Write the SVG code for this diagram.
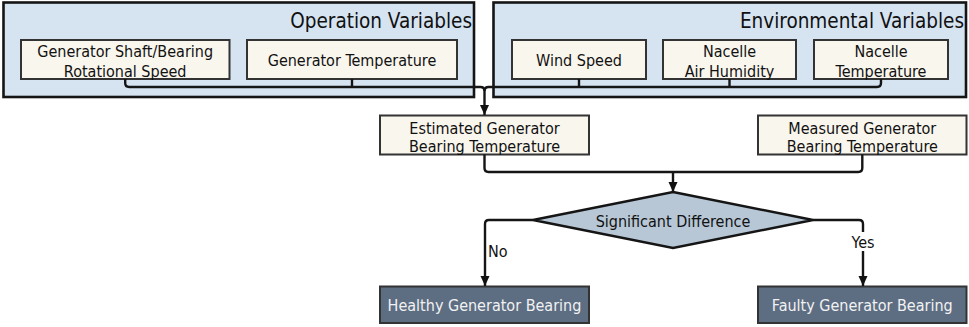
<svg xmlns="http://www.w3.org/2000/svg" width="969" height="327" viewBox="0 0 969 327">
<defs>
<marker id="arr" viewBox="0 0 10 10" refX="10" refY="5" markerWidth="10" markerHeight="10" markerUnits="userSpaceOnUse" orient="auto">
<path d="M0,0.5 L10,5 L0,9.5 Z" fill="#111"/>
</marker>
<style>
.group{fill:#d6e4f2;stroke:#151515;stroke-width:2.6}
.box{fill:#f9f6ee;stroke:#333;stroke-width:2}
.dark{fill:#5d6d82;stroke:#333;stroke-width:2}
.dia{fill:#b8c7d6;stroke:#151515;stroke-width:2.4}
text{font-family:"DejaVu Sans Condensed","DejaVu Sans",sans-serif;font-stretch:condensed;fill:#111;font-size:16px;text-anchor:middle}
.hd{font-size:20.5px;text-anchor:end}
.wt{fill:#f2f2f2}
.c{fill:none;stroke:#151515;stroke-width:2.4;stroke-linejoin:round}
</style>
</defs>
<g id="operation-variables">
<rect class="group" x="3.5" y="2.5" width="470.5" height="94.5"/>
<text class="hd" x="472" y="28">Operation Variables</text>
</g>
<g id="environmental-variables">
<rect class="group" x="493.5" y="2.5" width="472.5" height="94.5"/>
<text class="hd" x="964" y="28">Environmental Variables</text>
</g>
<g id="shaft-speed">
<rect class="box" x="21" y="40" width="208.5" height="39"/>
<text x="125.2" y="57">Generator Shaft/Bearing</text>
<text x="125.2" y="76.5">Rotational Speed</text>
</g>
<g id="generator-temperature">
<rect class="box" x="247" y="40" width="210" height="39"/>
<text x="352" y="66">Generator Temperature</text>
</g>
<g id="wind-speed">
<rect class="box" x="512" y="40" width="134" height="39"/>
<text x="579" y="66">Wind Speed</text>
</g>
<g id="nacelle-humidity">
<rect class="box" x="663" y="40" width="133" height="39"/>
<text x="729.5" y="57">Nacelle</text>
<text x="729.5" y="76.5">Air Humidity</text>
</g>
<g id="nacelle-temperature">
<rect class="box" x="814" y="40" width="134" height="39"/>
<text x="881" y="57">Nacelle</text>
<text x="881" y="76.5">Temperature</text>
</g>
<g id="estimated">
<rect class="box" x="380" y="115.5" width="209" height="39"/>
<text x="484.5" y="133.5">Estimated Generator</text>
<text x="484.5" y="152">Bearing Temperature</text>
</g>
<g id="measured">
<rect class="box" x="758" y="115.5" width="208.5" height="39"/>
<text x="862.3" y="133.5">Measured Generator</text>
<text x="862.3" y="152">Bearing Temperature</text>
</g>
<g id="decision">
<polygon class="dia" points="673,192 813,220 673,248 533,220"/>
<text x="673" y="226.5">Significant Difference</text>
</g>
<g id="healthy">
<rect class="dark" x="380" y="286.5" width="209" height="36.5"/>
<text class="wt" x="484.5" y="311">Healthy Generator Bearing</text>
</g>
<g id="faulty">
<rect class="dark" x="758" y="286.5" width="208.5" height="36.5"/>
<text class="wt" x="862.3" y="311">Faulty Generator Bearing</text>
</g>
<g id="connectors">
<path class="c" d="M125.2,79 V83 Q125.2,87 129.2,87 H480.5 Q484.5,87 484.5,91"/>
<path class="c" d="M352,79 V87"/>
<path class="c" d="M881,79 V83 Q881,87 877,87 H488.5 Q484.5,87 484.5,91"/>
<path class="c" d="M579,79 V87"/>
<path class="c" d="M729.5,79 V87"/>
<path class="c" d="M484.5,91 V115" marker-end="url(#arr)"/>
<path class="c" d="M484.5,154.5 V168 Q484.5,172 488.5,172 H858.3 Q862.3,172 862.3,168 V154.5"/>
<path class="c" d="M673,172 V192" marker-end="url(#arr)"/>
<path class="c" d="M533,220 H489 Q485,220 485,224 V286" marker-end="url(#arr)"/>
<path class="c" d="M813,220 H859 Q863,220 863,224 V232"/>
<path class="c" d="M863,251 V286" marker-end="url(#arr)"/>
<text x="488" y="257" style="text-anchor:start">No</text>
<text x="863" y="247.5">Yes</text>
</g>
</svg>
